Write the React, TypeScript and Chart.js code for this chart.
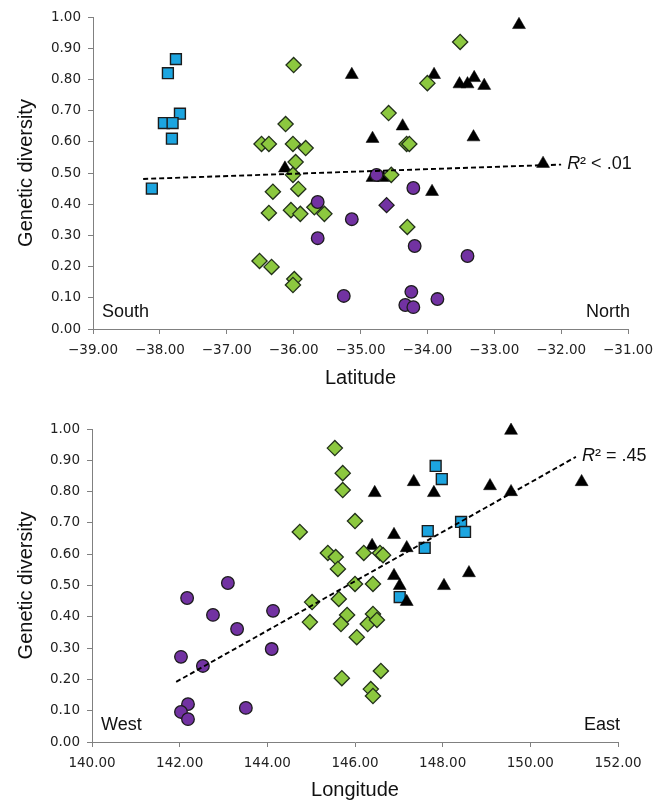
import React, { useEffect, useRef } from "react";
import { Chart, registerables } from "chart.js";

Chart.register(...registerables);

// ---------- Top panel: Latitude ----------
const latSquares = [-37.88, -37.76, -37.7, -37.94, -37.81, -37.82, -38.12];
const latSquaresGD = [0.82, 0.865, 0.69, 0.66, 0.66, 0.61, 0.45];

const latTriangles = [-32.63, -35.13, -33.9, -33.52, -33.4, -33.3, -33.15, -34.37, -34.82, -33.31, -32.27, -34.82, -34.66, -33.93, -36.13];
const latTrianglesGD = [0.975, 0.815, 0.815, 0.785, 0.785, 0.805, 0.78, 0.65, 0.61, 0.615, 0.53, 0.485, 0.485, 0.44, 0.515];

const latDiamonds = [-36.0, -33.51, -34.0, -34.58, -36.12, -36.48, -36.37, -36.01, -35.82, -34.31, -34.27, -35.97, -36.01, -34.54, -36.31, -35.93, -36.37, -36.04, -35.9, -35.69, -35.54, -34.3, -36.51, -36.33, -35.99, -36.01];
const latDiamondsGD = [0.846, 0.92, 0.788, 0.692, 0.657, 0.593, 0.593, 0.593, 0.58, 0.593, 0.593, 0.535, 0.494, 0.494, 0.44, 0.449, 0.372, 0.381, 0.369, 0.39, 0.369, 0.327, 0.218, 0.199, 0.16, 0.141];

const latCircles = [-35.64, -35.64, -35.13, -34.21, -34.19, -35.25, -34.24, -34.33, -34.21, -33.85, -34.76, -33.4];
const latCirclesGD = [0.407, 0.291, 0.352, 0.452, 0.266, 0.106, 0.119, 0.077, 0.07, 0.096, 0.494, 0.234];

const latPurpleDiamond = [-34.61];
const latPurpleDiamondGD = [0.397];

const latTrendX = [-38.25, -32.0];
const latTrendY = [0.481, 0.527];

// ---------- Bottom panel: Longitude ----------
const lonSquares = [147.84, 147.98, 148.42, 148.51, 147.66, 147.59, 147.02];
const lonSquaresGD = [0.882, 0.84, 0.703, 0.671, 0.674, 0.62, 0.463];

const lonTriangles = [149.56, 151.17, 149.08, 149.56, 147.34, 147.8, 146.45, 146.89, 146.39, 147.18, 148.6, 146.89, 148.03, 147.02, 147.18];
const lonTrianglesGD = [0.995, 0.831, 0.818, 0.799, 0.831, 0.796, 0.796, 0.662, 0.627, 0.62, 0.54, 0.531, 0.499, 0.499, 0.448];

const lonDiamonds = [145.54, 145.72, 145.72, 146.0, 144.74, 145.38, 145.56, 145.61, 146.2, 146.57, 146.64, 146.0, 146.41, 145.02, 145.63, 144.97, 145.82, 145.68, 146.41, 146.29, 146.5, 146.04, 145.7, 146.59, 146.36, 146.41];
const lonDiamondsGD = [0.939, 0.859, 0.805, 0.706, 0.671, 0.604, 0.591, 0.553, 0.604, 0.604, 0.597, 0.505, 0.505, 0.447, 0.457, 0.383, 0.406, 0.377, 0.409, 0.377, 0.39, 0.335, 0.204, 0.227, 0.169, 0.147];

const lonCircles = [143.1, 142.17, 142.76, 144.13, 143.31, 142.03, 142.53, 144.1, 142.19, 142.03, 142.19, 143.51];
const lonCirclesGD = [0.508, 0.46, 0.406, 0.419, 0.361, 0.272, 0.243, 0.297, 0.121, 0.096, 0.073, 0.109];

const lonTrendX = [141.92, 151.04];
const lonTrendY = [0.192, 0.911];

// ---------- Text ----------
const yTitle = "Genetic diversity";
const latTitle = "Latitude";
const lonTitle = "Longitude";
const latEnds = ["South", "North"];
const lonEnds = ["West", "East"];
const latR2 = "\u00b2 < .01";
const lonR2 = "\u00b2 = .45";

const BLUE = "#1ca5e0";
const GREEN = "#8cc83f";
const PURPLE = "#7232a2";
const EDGE = "#1c1c1c";
const AXIS = "#808080";
const TICK_FONT = "'DejaVu Sans', Verdana, sans-serif";
const TEXT_FONT = "'Liberation Sans', Arial, sans-serif";

const pts = (xs: number[], ys: number[]) => xs.map((x, i) => ({ x, y: ys[i] }));

type PanelProps = {
  squares: [number[], number[]];
  triangles: [number[], number[]];
  diamonds: [number[], number[]];
  circles: [number[], number[]];
  purpleDiamond?: [number[], number[]];
  trend: [number[], number[]];
  xMin: number;
  xMax: number;
  xStep: number;
  xTitle: string;
  ends: string[];
  r2: string;
  pad: { top: number; right: number };
  yWidth: number;
  xHeight: number;
  xTitlePad: number;
};

function Panel(p: PanelProps) {
  const ref = useRef<HTMLCanvasElement | null>(null);
  useEffect(() => {
    if (!ref.current) return;
    const datasets: any[] = [
      {
        label: "trend",
        data: pts(p.trend[0], p.trend[1]),
        showLine: true,
        borderColor: "#000",
        borderWidth: 1.9,
        borderDash: [5, 3],
        pointRadius: 0,
        fill: false,
        clip: false,
      },
      {
        label: "circles",
        data: pts(p.circles[0], p.circles[1]),
        pointStyle: "circle",
        pointRadius: 6.3,
        backgroundColor: PURPLE,
        borderColor: EDGE,
        borderWidth: 1.3,
        clip: false,
      },
    ];
    if (p.purpleDiamond) {
      datasets.push({
        label: "pdiamond",
        data: pts(p.purpleDiamond[0], p.purpleDiamond[1]),
        pointStyle: "rectRot",
        pointRadius: 7.5,
        backgroundColor: PURPLE,
        borderColor: EDGE,
        borderWidth: 1.3,
        clip: false,
      });
    }
    datasets.push(
      {
        label: "diamonds",
        data: pts(p.diamonds[0], p.diamonds[1]),
        pointStyle: "rectRot",
        pointRadius: 7.6,
        backgroundColor: GREEN,
        borderColor: "#22301a",
        borderWidth: 1.3,
        clip: false,
      },
      {
        label: "triangles",
        data: pts(p.triangles[0], p.triangles[1]),
        pointStyle: "triangle",
        pointRadius: 7.5,
        backgroundColor: "#000",
        borderColor: "#000",
        borderWidth: 0.5,
        clip: false,
      },
      {
        label: "squares",
        data: pts(p.squares[0], p.squares[1]),
        pointStyle: "rect",
        pointRadius: 7.7,
        backgroundColor: BLUE,
        borderColor: EDGE,
        borderWidth: 1.4,
        clip: false,
      }
    );

    const textPlugin = {
      id: "panelText",
      afterDatasetsDraw(chart: any) {
        const { ctx, chartArea, scales } = chart;
        ctx.save();
        ctx.fillStyle = "#111";
        ctx.textBaseline = "middle";
        ctx.font = `18px ${TEXT_FONT}`;
        ctx.textAlign = "left";
        ctx.fillText(p.ends[0], chartArea.left + 9, chartArea.bottom - 17);
        ctx.textAlign = "right";
        ctx.fillText(p.ends[1], chartArea.right + 2, chartArea.bottom - 17);
        // R² label at end of trend line
        const xe = scales.x.getPixelForValue(p.trend[0][1]) + 6;
        const ye = scales.y.getPixelForValue(p.trend[1][1]) - 1;
        ctx.textAlign = "left";
        ctx.font = `italic 18px ${TEXT_FONT}`;
        ctx.fillText("R", xe, ye);
        const w = ctx.measureText("R").width;
        ctx.font = `18px ${TEXT_FONT}`;
        ctx.fillText(p.r2, xe + w, ye);
        ctx.restore();
      },
    };

    const fmt = (v: any) => {
      const s = Number(v).toFixed(2);
      return s.startsWith("-") ? "\u2212" + s.slice(1) : s;
    };

    const chart = new Chart(ref.current, {
      type: "scatter",
      data: { datasets },
      options: {
        animation: false,
        responsive: false,
        devicePixelRatio: 1,
        layout: { padding: { left: 0, right: p.pad.right, top: p.pad.top, bottom: 0 } },
        plugins: { legend: { display: false }, tooltip: { enabled: false } },
        scales: {
          x: {
            type: "linear",
            min: p.xMin,
            max: p.xMax,
            ticks: {
              stepSize: p.xStep,
              callback: fmt,
              font: { family: TICK_FONT, size: 13.5 },
              color: "#222",
              padding: 8,
              maxRotation: 0,
              autoSkip: false,
            },
            grid: { display: true, drawOnChartArea: false, drawTicks: true, tickLength: 5, color: AXIS },
            border: { display: true, color: AXIS, width: 1 },
            title: {
              display: true,
              text: p.xTitle,
              color: "#111",
              font: { family: TEXT_FONT, size: 20, lineHeight: 1 },
              padding: { top: 0, bottom: p.xTitlePad },
            },
            afterFit: (s: any) => {
              s.height = p.xHeight;
              s.paddingLeft = 0;
              s.paddingRight = 0;
            },
          },
          y: {
            type: "linear",
            min: 0,
            max: 1,
            ticks: {
              stepSize: 0.1,
              callback: fmt,
              font: { family: TICK_FONT, size: 13.5 },
              color: "#222",
              padding: 7,
            },
            grid: { display: true, drawOnChartArea: false, drawTicks: true, tickLength: 5, color: AXIS },
            border: { display: true, color: AXIS, width: 1 },
            title: {
              display: true,
              text: yTitle,
              color: "#111",
              font: { family: TEXT_FONT, size: 20, lineHeight: 1 },
              padding: { top: 16, bottom: 0 },
            },
            afterFit: (s: any) => {
              s.width = p.yWidth;
              s.paddingTop = 0;
              s.paddingBottom = 0;
            },
          },
        },
      } as any,
      plugins: [textPlugin],
    });
    return () => chart.destroy();
  }, []);
  return (
    <div style={{ width: 662, height: 400, position: "relative" }}>
      <canvas ref={ref} width={662} height={400} style={{ display: "block" }} />
    </div>
  );
}

export default function App() {
  return (
    <div style={{ position: "absolute", left: 0, top: 0, width: 662, height: 800, background: "#fff" }}>
      <Panel
        squares={[latSquares, latSquaresGD]}
        triangles={[latTriangles, latTrianglesGD]}
        diamonds={[latDiamonds, latDiamondsGD]}
        circles={[latCircles, latCirclesGD]}
        purpleDiamond={[latPurpleDiamond, latPurpleDiamondGD]}
        trend={[latTrendX, latTrendY]}
        xMin={-39}
        xMax={-31}
        xStep={1}
        xTitle={latTitle}
        ends={latEnds}
        r2={latR2}
        pad={{ top: 17, right: 34 }}
        yWidth={93}
        xHeight={71}
        xTitlePad={12}
      />
      <Panel
        squares={[lonSquares, lonSquaresGD]}
        triangles={[lonTriangles, lonTrianglesGD]}
        diamonds={[lonDiamonds, lonDiamondsGD]}
        circles={[lonCircles, lonCirclesGD]}
        trend={[lonTrendX, lonTrendY]}
        xMin={140}
        xMax={152}
        xStep={2}
        xTitle={lonTitle}
        ends={lonEnds}
        r2={lonR2}
        pad={{ top: 29, right: 44 }}
        yWidth={92}
        xHeight={58}
        xTitlePad={0}
      />
    </div>
  );
}
